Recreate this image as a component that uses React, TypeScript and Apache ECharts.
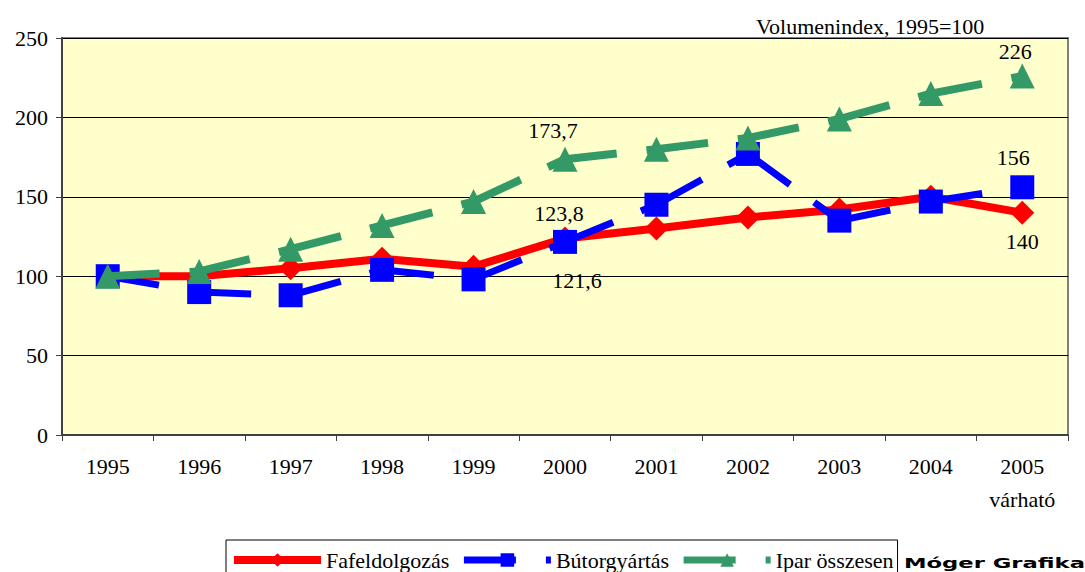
import React, { useEffect, useRef } from "react";
import * as echarts from "echarts";

const years = ["1995", "1996", "1997", "1998", "1999", "2000", "2001", "2002", "2003", "2004", "2005\nvárható"];
const fafeldolgozas = [100, 100, 105, 111, 106, 123.8, 130, 137, 142, 150, 140];
const butorgyartas = [100, 90, 88, 104, 98, 121.6, 145, 177, 135, 147, 156];
const iparOsszesen = [100, 103, 117, 132, 147, 173.7, 180, 187, 199, 215, 226];
const yTicks = { min: 0, max: 250, interval: 50 };
const seriesNames = ["Fafeldolgozás", "Bútorgyártás", "Ipar összesen"];
const titleText = "Volumenindex, 1995=100";
const brandText = "Móger Grafika";

const FONT = "'Liberation Serif', 'Times New Roman', serif";
const FS = 22;
const RED = "#FF0000";
const BLUE = "#0000FF";
const GREEN = "#339966";
const DASH = [52, 30];

const fmt = (v: number) => String(v).replace(".", ",");

// label placements (style only)
const labelCfg: Record<string, Record<number, any>> = {
  [seriesNames[0]]: {
    5: { position: "top", offset: [-6, 3] },
    10: { position: "bottom", offset: [0, 1] },
  },
  [seriesNames[1]]: {
    5: { position: "bottom", offset: [12, 11] },
    10: { position: "top", offset: [-9, -2] },
  },
  [seriesNames[2]]: {
    5: { position: "top", offset: [-12, 0] },
    10: { position: "top", offset: [-7, 4] },
  },
};

function mainSeries(name: string, values: number[], color: string, symbol: string, size: number, z: number, showLine: boolean) {
  return {
    type: "line",
    name,
    z,
    symbol,
    symbolSize: size,
    showAllSymbol: true,
    itemStyle: { color },
    lineStyle: { color, width: 8, opacity: showLine ? 1 : 0, cap: "butt" },
    data: values.map((v, i) => {
      const lc = labelCfg[name][i];
      if (!lc) return v;
      return {
        value: v,
        label: {
          show: true,
          position: lc.position,
          offset: lc.offset,
          distance: 5,
          formatter: () => fmt(v),
          color: "#000",
          fontFamily: FONT,
          fontSize: FS,
        },
      };
    }),
  };
}

function segments(name: string, values: number[], color: string, width: number, z: number) {
  return values.slice(0, -1).map((_, i) => ({
    type: "line",
    name,
    z,
    silent: true,
    symbol: "none",
    lineStyle: { color, width, type: DASH, cap: "butt" },
    data: values.map((v, j) => (j === i || j === i + 1 ? v : null)),
  }));
}

export default function App() {
  const ref = useRef<HTMLDivElement>(null);
  useEffect(() => {
    document.body.style.margin = "0";
    document.body.style.overflow = "hidden";
    if (!ref.current) return;
    const chart = echarts.init(ref.current, null, { renderer: "svg" });
    chart.setOption({
      animation: false,
      title: {
        text: titleText,
        left: 751,
        top: 10,
        textStyle: { fontFamily: FONT, fontSize: FS, fontWeight: "normal", color: "#000" },
      },
      grid: {
        left: 62,
        right: 17,
        top: 38,
        bottom: 137,
        show: true,
        backgroundColor: "#FFFFCC",
        borderColor: "#808080",
        borderWidth: 2,
      },
      legend: {
        left: 226,
        top: 540,
        padding: [9, 4, 9, 4],
        itemWidth: 87,
        itemHeight: 17,
        itemGap: 11,
        backgroundColor: "#fff",
        borderColor: "#000",
        borderWidth: 1,
        borderRadius: 0,
        textStyle: { fontFamily: FONT, fontSize: FS, color: "#000" },
        data: [
          { name: seriesNames[0], lineStyle: { color: RED, width: 8, type: "solid", opacity: 1 } },
          { name: seriesNames[1], lineStyle: { color: BLUE, width: 7, type: DASH, opacity: 1 } },
          { name: seriesNames[2], lineStyle: { color: GREEN, width: 7, type: DASH, opacity: 1 } },
        ],
      },
      xAxis: {
        type: "category",
        data: years,
        boundaryGap: true,
        axisLine: { show: true, lineStyle: { color: "#404040", width: 2 } },
        axisTick: { show: true, length: 6, lineStyle: { color: "#404040", width: 1 } },
        axisLabel: {
          color: "#000",
          fontFamily: FONT,
          fontSize: FS,
          margin: 15,
          lineHeight: 33,
          interval: 0,
        },
      },
      yAxis: {
        type: "value",
        min: yTicks.min,
        max: yTicks.max,
        interval: yTicks.interval,
        axisLine: { show: true, lineStyle: { color: "#404040", width: 2 } },
        axisTick: { show: true, length: 6, lineStyle: { color: "#404040", width: 1 } },
        splitLine: { show: true, lineStyle: { color: "#000", width: 1 } },
        axisLabel: { color: "#000", fontFamily: FONT, fontSize: FS, margin: 14 },
      },
      graphic: [
        {
          type: "text",
          x: 904,
          y: 563,
          scaleX: 1.62,
          style: {
            text: brandText,
            font: "900 14px 'DejaVu Sans', sans-serif",
            fill: "#000",
            verticalAlign: "middle",
          },
        },
      ],
      series: [
        mainSeries(seriesNames[0], fafeldolgozas, RED, "diamond", 24, 2, true),
        mainSeries(seriesNames[1], butorgyartas, BLUE, "rect", 24, 4, false),
        mainSeries(seriesNames[2], iparOsszesen, GREEN, "triangle", 25, 6, false),
        ...segments(seriesNames[1], butorgyartas, BLUE, 7, 3),
        ...segments(seriesNames[2], iparOsszesen, GREEN, 8, 5),
      ],
    });
    return () => chart.dispose();
  }, []);
  return <div ref={ref} style={{ width: 1085, height: 572 }} />;
}
